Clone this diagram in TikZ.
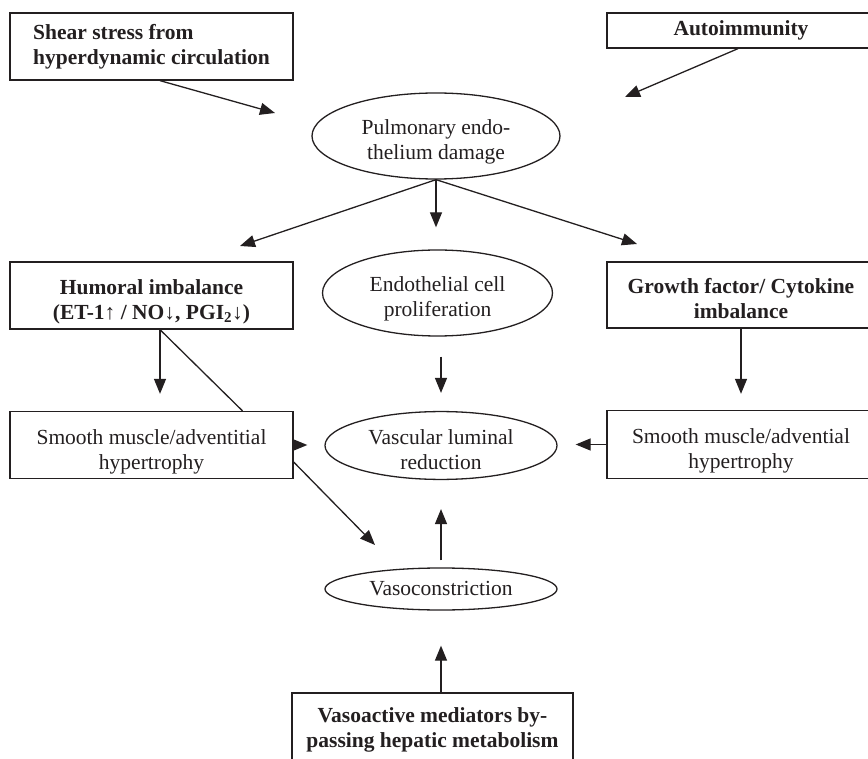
\documentclass[tikz,border=0pt]{standalone}
\usepackage{fontspec}
\setmainfont{Liberation Serif}
\usetikzlibrary{shapes.geometric,arrows.meta,calc}
\definecolor{ink}{HTML}{231F20}

\begin{document}
\begin{tikzpicture}[x=1pt,y=-1pt,
	every node/.style={font=\fontsize{21.5}{25}\selectfont,inner sep=0pt,text=ink},
	strong/.style={font=\fontsize{21.5}{25}\selectfont\bfseries},
	midline/.style={text height=48pt,text depth=-3pt},
	cbox/.style={draw=ink,line width=1.3pt,rectangle,align=center},
	cell/.style={draw=ink,line width=1.3pt,ellipse,align=center},
	arr/.style={draw=ink,line width=1.3pt,-{Triangle[length=15pt,width=12pt]}},
	link/.style={draw=ink,line width=1.3pt}]
	\useasboundingbox (0,0) rectangle (868,759);
	\clip (0,0) rectangle (868,759);
	\def\lw{283} %width of left boxes
	\def\rw{268} %width of right boxes, they run past the edge
	
	%BOXES
	\node[cbox,strong,align=left,minimum width=\lw pt,minimum height=67pt] (shear) at (151.5,46.5) {Shear stress from\\hyperdynamic circulation};
	\node[cbox,strong,minimum width=\rw pt,minimum height=35pt] (autoimm) at (741,30.5) {Autoimmunity};
	\node[cbox,strong,midline,minimum width=\lw pt,minimum height=67pt] (humoral) at (151.5,295.5) {Humoral imbalance\\(ET-1↑ / NO↓, PGI\textsubscript{2}↓)};
	\node[cbox,strong,midline,minimum width=\rw pt,minimum height=66pt] (growth) at (741,295) {Growth factor/ Cytokine\\imbalance};
	\node[cbox,midline,minimum width=\lw pt,minimum height=67pt] (lsmooth) at (151.5,445) {Smooth muscle/adventitial\\hypertrophy};
	\node[cbox,midline,minimum width=\rw pt,minimum height=68pt] (rsmooth) at (741,444.5) {Smooth muscle/advential\\hypertrophy};
	\node[cbox,strong,minimum width=281pt,minimum height=74pt] (vasomed) at (432.5,730) {Vasoactive mediators by-\\passing hepatic metabolism};
	
	%ELLIPSES
	\node[cell,midline,minimum width=248pt,minimum height=86pt] (pulm) at (436,136) {Pulmonary endo-\\thelium damage};
	\node[cell,midline,minimum width=230pt,minimum height=86pt] (endo) at (437.5,293) {Endothelial cell\\proliferation};
	\node[cell,midline,minimum width=232pt,minimum height=65pt] (lumen) at (441,445.5) {Vascular luminal\\reduction};
	\node[cell,minimum width=232pt,minimum height=42pt] (vasoc) at (441,589) {Vasoconstriction};
	
	%FREE ARROW ENDS
	\coordinate (shearTip) at (275,113);
	\coordinate (autoTip) at (625,97);
	\coordinate (humTip) at (240,246);
	\coordinate (groTip) at (637,244);
	\coordinate (vasoTip) at (375,545);
	
	%ARROWS
	\draw[arr] ([xshift=8.5pt]shear.south) -- (shearTip);
	\draw[arr] ([xshift=-3pt]autoimm.south) -- (autoTip);
	\draw[arr] (pulm.south) -- (humTip);
	\draw[arr] (pulm.south) -- (groTip);
	\draw[arr,shorten >=22pt] (pulm.south) -- (pulm.south |- endo.north);
	\draw[arr,shorten >=17pt] ([xshift=8.5pt]humoral.south) -- ([xshift=8.5pt]lsmooth.north);
	\draw[link] ([xshift=8.5pt]humoral.south) -- ($(lsmooth.north west)!0.82!(lsmooth.north east)$);
	\draw[arr,shorten >=16pt] (growth.south) -- (rsmooth.north);
	\draw[arr,shorten <=20pt,shorten >=18pt] (lumen.north |- endo.south) -- (lumen.north);
	\draw[arr,shorten >=17pt] (lsmooth.east) -- (lsmooth.east -| lumen.west);
	\draw[arr,shorten >=18pt] (rsmooth.west) -- (rsmooth.west -| lumen.east);
	\draw[arr] ([yshift=-17pt]lsmooth.east) -- (vasoTip);
	\draw[arr,shorten <=7pt,shorten >=29pt] (vasoc.north) -- (lumen.south);
	\draw[arr,shorten >=35pt] (vasomed.north -| vasoc.south) -- (vasoc.south);
\end{tikzpicture}
\end{document}
